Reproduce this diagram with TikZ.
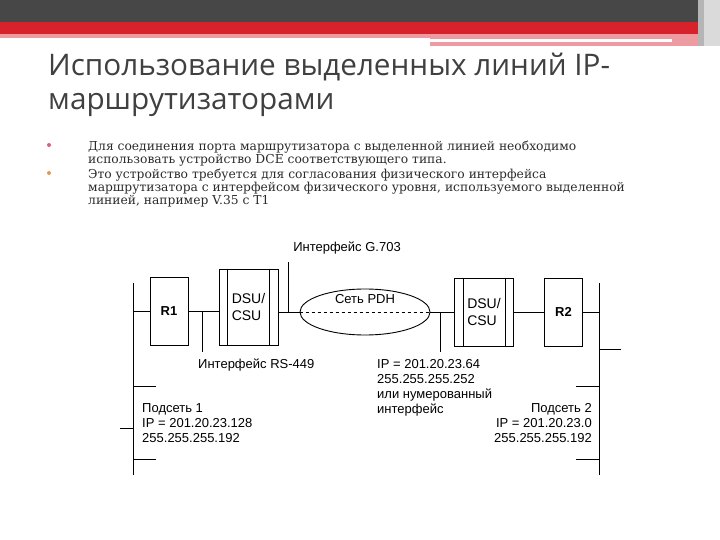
\documentclass[tikz,border=0pt]{standalone}
\usepackage{fontspec}
\setmainfont{Liberation Sans}
\newfontfamily\titlefont{Open Sans}
\newfontfamily\bodyfont{DejaVu Serif}
\usetikzlibrary{shapes.geometric,positioning}
\definecolor{slidedark}{HTML}{474747}
\definecolor{slidered}{HTML}{D7212B}
\definecolor{slidepink}{HTML}{EE9AA1}
\definecolor{slidegray}{HTML}{B5B5B5}
\definecolor{titlegray}{HTML}{404040}
\definecolor{bodygray}{HTML}{2B2B2B}
\definecolor{bulletpink}{HTML}{D9607A}
\definecolor{bulletorange}{HTML}{E49A55}
\tikzset{
  wire/.style={draw=black,line width=0.9pt},
  router/.style={draw=black,line width=0.9pt,minimum width=38pt,minimum height=68pt,inner sep=0pt,font=\fontsize{13}{15}\selectfont\bfseries},
  dsubox/.style={draw=black,line width=0.9pt,minimum width=59pt,minimum height=76pt,inner sep=0pt,align=left,font=\fontsize{14}{17}\selectfont},
  cloud/.style={draw=black,line width=0.9pt,ellipse,minimum width=130pt,minimum height=46pt,inner sep=0pt},
  lbl/.style={inner sep=0pt,font=\fontsize{13}{15}\selectfont},
  titletext/.style={anchor=base west,inner sep=0pt,text=titlegray,font=\titlefont\fontsize{29.7}{29.7}\selectfont},
  bodytext/.style={anchor=north west,inner sep=0pt,align=left,text=bodygray,font=\bodyfont\fontsize{12.3}{13}\selectfont},
}

\begin{document}
\begin{tikzpicture}[x=1pt,y=-1pt]
  \useasboundingbox (0,0) rectangle (720,540);
  % slide header
  \fill[slidedark] (0,0) rectangle (698,22);
  \fill[slidered] (0,22) rectangle (698,34);
  \fill[slidepink] (0,34) rectangle (430,38);
  \fill[slidepink] (430,34) rectangle (698,46);
  \fill[white] (430,39) rectangle (672,42);
  \fill[slidegray] (698,0) rectangle (704,46);
  \fill[slidegray!50] (704,0) rectangle (720,46);
  \node[titletext] (title1) at (48,76) {Использование выделенных линий IP-};
  \node[titletext] (title2) at (48,110) {маршрутизаторами};

  % bullets
  \fill[bulletpink] (49,145) circle (2pt);
  \fill[bulletorange] (49,173) circle (2pt);
  \node[bodytext] (item1) at (88,141) {Для соединения порта маршрутизатора с выделенной линией необходимо\\использовать устройство DCE соответствующего типа.};
  \node[bodytext] (item2) at (88,169) {Это устройство требуется для согласования физического интерфейса\\маршрутизатора с интерфейсом физического уровня, используемого выделенной\\линией, например V.35 с T1};

  % network
  \coordinate (busL top) at (133,283);
  \coordinate (busL bot) at (133,475);
  \coordinate (busR top) at (599,283);
  \coordinate (busR bot) at (599,475);
  \node[router] (R1) at (169,311) {R1};
  \node[dsubox] (dsuA) at (248.5,307) {DSU/\\CSU};
  \node[cloud] (pdh) at (365,312) {};
  \node[lbl] (pdhname) at (365,299) {Сеть PDH};
  \node[dsubox,minimum height=68pt] (dsuB) at (484,312) {DSU/\\CSU};
  \node[router] (R2) at (563.5,312) {R2};

  \draw[wire] (busL top) -- (busL bot);
  \draw[wire] (busR top) -- (busR bot);
  \draw[wire] (R1.west) -- (R1.west -| busL top);
  \draw[wire] (R1.east) -- (R1.east -| dsuA.west);
  \draw[wire] (dsuA.east |- pdh.west) -- (pdh.west);
  \draw[wire,dashed] (pdh.west) -- (pdh.east);
  \draw[wire] (pdh.east) -- (dsuB.west);
  \draw[wire] (dsuB.east) -- (R2.west);
  \draw[wire] (R2.east) -- (R2.east -| busR top);
  \foreach \b in {dsuA,dsuB}{
    \draw[wire] ([xshift=9pt]\b.north west) -- ([xshift=9pt]\b.south west);
    \draw[wire] ([xshift=-9pt]\b.north east) -- ([xshift=-9pt]\b.south east);
  }
  % bus stubs
  \draw[wire] (busL top |- 0,428) -- ++(-13,0);
  \draw[wire] (busL top |- 0,386) -- ++(23,0);
  \draw[wire] (busL top |- 0,459) -- ++(23,0);
  \draw[wire] (busR top |- 0,349) -- ++(22,0);
  \draw[wire] (busR top |- 0,386) -- ++(-23,0);
  \draw[wire] (busR top |- 0,459) -- ++(-23,0);

  % interface pointers
  \coordinate (rsTap) at (202,312);
  \coordinate (gTap) at (288,312);
  \coordinate (ipTap) at (440,312);
  \node[lbl] (g703) at (347,248) {Интерфейс G.703};
  \node[lbl,anchor=west] (rs449) at (198,365) {Интерфейс RS-449};
  \draw[wire] (gTap) -- ++(0,-50);
  \draw[wire] (rsTap) -- ++(0,40);
  \draw[wire] (ipTap) -- ++(0,40);

  % address labels
  \node[lbl,align=left,anchor=north west] (ipwan) at (377,359) {IP = 201.20.23.64\\255.255.255.252\\или нумерованный\\интерфейс};
  \node[lbl,align=left,anchor=north west] (net1) at (142,403) {Подсеть 1\\IP = 201.20.23.128\\255.255.255.192};
  \node[lbl,align=right,anchor=north east] (net2) at (592,403) {Подсеть 2\\IP = 201.20.23.0\\255.255.255.192};
\end{tikzpicture}
\end{document}
